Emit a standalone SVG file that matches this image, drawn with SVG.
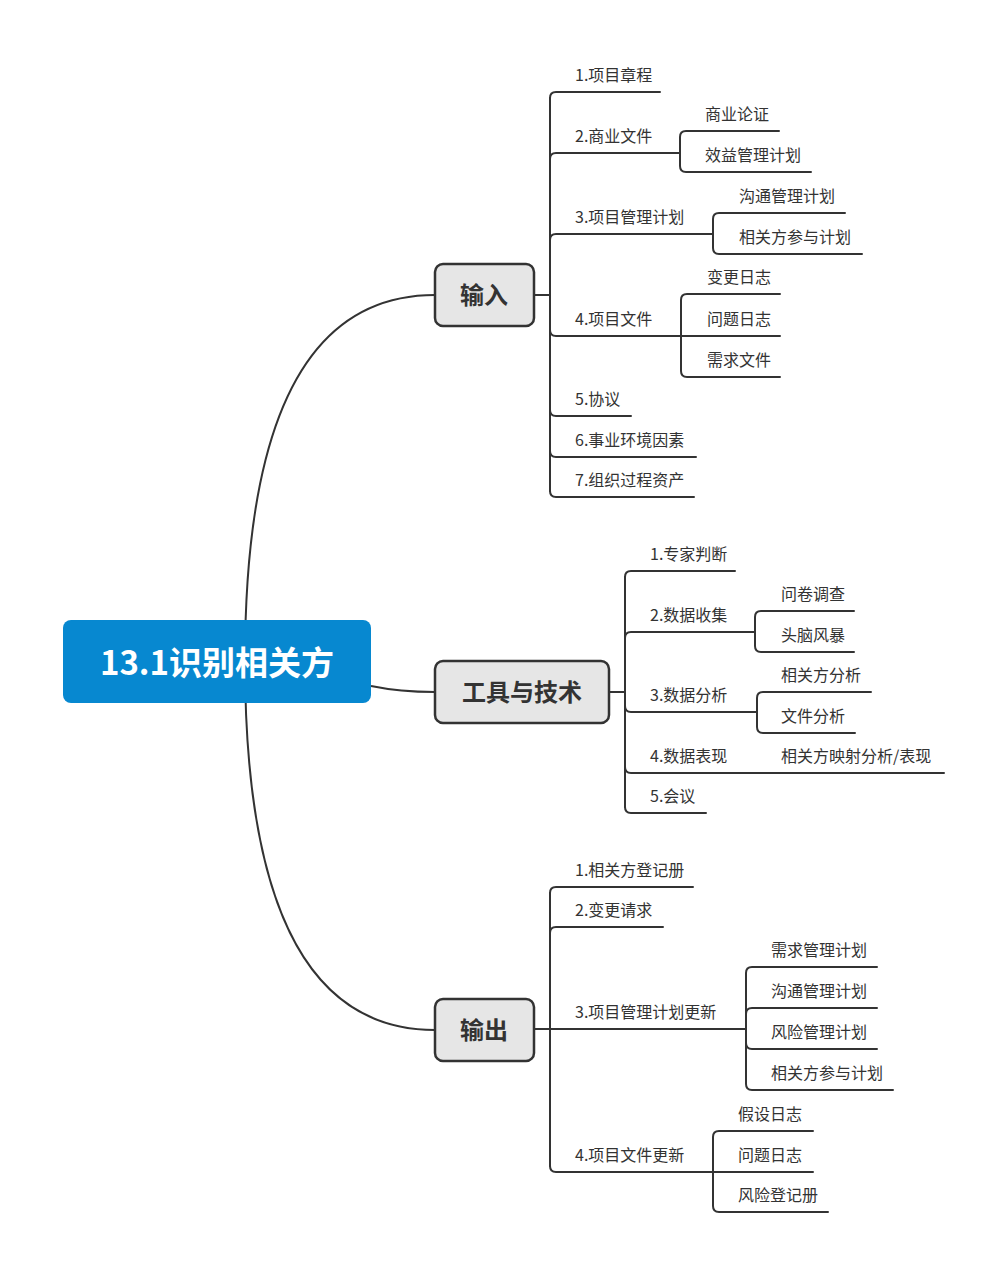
<svg xmlns="http://www.w3.org/2000/svg" width="1007" height="1276" viewBox="0 0 1007 1276">
<style>
.c{fill:none;stroke:#333;stroke-width:2;stroke-linecap:round}
.m{fill:none;stroke:#333;stroke-width:2}
.t{font-family:"Noto Sans CJK SC","Noto Sans",sans-serif;font-size:16px;fill:#333}
.n{fill:#e6e6e6;stroke:#333;stroke-width:2.5}
.nt{font-family:"Noto Sans CJK SC","Noto Sans",sans-serif;font-size:24px;font-weight:bold;fill:#333;text-anchor:middle}
</style>
<rect width="1007" height="1276" fill="#fff"/>
<g id="connectors">
<path class="m" d="M245,661 Q245,295 435,295"/>
<path class="m" d="M371,686 Q400,692 435,692"/>
<path class="m" d="M245,661 Q245,1030 435,1030"/>
<!-- input -->
<path class="c" d="M534,295 L550,295 M550,98 L550,491"/>
<path class="c" d="M550,98 Q550,92 556,92 L660,92"/>
<path class="c" d="M550,159 Q550,153 556,153 L680,153"/>
<path class="c" d="M550,240 Q550,234 556,234 L713,234"/>
<path class="c" d="M550,330 Q550,336 556,336 L681,336"/>
<path class="c" d="M550,410 Q550,416 556,416 L631,416"/>
<path class="c" d="M550,451 Q550,457 556,457 L696,457"/>
<path class="c" d="M550,491 Q550,497 556,497 L694,497"/>
<path class="c" d="M680,137 L680,166 M680,137 Q680,131 686,131 L779,131 M680,166 Q680,172 686,172 L811,172"/>
<path class="c" d="M713,219 L713,248 M713,219 Q713,213 719,213 L845,213 M713,248 Q713,254 719,254 L862,254"/>
<path class="c" d="M681,300 L681,371 M681,300 Q681,294 687,294 L780,294 M681,336 L780,336 M681,371 Q681,377 687,377 L780,377"/>
<!-- tools -->
<path class="c" d="M609,692 L625,692 M625,577 L625,807"/>
<path class="c" d="M625,577 Q625,571 631,571 L735,571"/>
<path class="c" d="M625,638 Q625,632 631,632 L755,632"/>
<path class="c" d="M625,706 Q625,712 631,712 L757,712"/>
<path class="c" d="M625,767 Q625,773 631,773 L944,773"/>
<path class="c" d="M625,807 Q625,813 631,813 L706,813"/>
<path class="c" d="M755,617 L755,646 M755,617 Q755,611 761,611 L854,611 M755,646 Q755,652 761,652 L854,652"/>
<path class="c" d="M757,698 L757,727 M757,698 Q757,692 763,692 L871,692 M757,727 Q757,733 763,733 L855,733"/>
<!-- output -->
<path class="c" d="M550,893 L550,1166"/>
<path class="c" d="M550,893 Q550,887 556,887 L693,887"/>
<path class="c" d="M550,933 Q550,927 556,927 L663,927"/>
<path class="c" d="M534,1029 L746,1029"/>
<path class="c" d="M550,1166 Q550,1172 556,1172 L713,1172"/>
<path class="c" d="M746,973 L746,1084 M746,973 Q746,967 752,967 L877,967 M746,1014 Q746,1008 752,1008 L877,1008 M746,1043 Q746,1049 752,1049 L877,1049 M746,1084 Q746,1090 752,1090 L893,1090"/>
<path class="c" d="M713,1137 L713,1206 M713,1137 Q713,1131 719,1131 L813,1131 M713,1172 L813,1172 M713,1206 Q713,1212 719,1212 L828,1212"/>
</g>
<g id="root">
<rect x="63" y="620" width="308" height="83" rx="8" fill="#0788d0"/>
<text x="217" y="675" font-family="'Noto Sans CJK SC','Noto Sans',sans-serif" font-size="33" font-weight="bold" fill="#fff" text-anchor="middle">13.1识别相关方</text>
</g>
<g id="input"><rect class="n" x="435" y="264" width="99" height="62" rx="8"/><text class="nt" x="484" y="304">输入</text></g>
<g id="tools"><rect class="n" x="435" y="661" width="174" height="62" rx="8"/><text class="nt" x="522" y="701">工具与技术</text></g>
<g id="output"><rect class="n" x="435" y="999" width="99" height="62" rx="8"/><text class="nt" x="484" y="1039">输出</text></g>
<g id="input-children" class="t">
<text class="t" x="575" y="81">1.项目章程</text>
<text class="t" x="575" y="142">2.商业文件</text>
<text class="t" x="705" y="120">商业论证</text>
<text class="t" x="705" y="161">效益管理计划</text>
<text class="t" x="575" y="223">3.项目管理计划</text>
<text class="t" x="739" y="202">沟通管理计划</text>
<text class="t" x="739" y="243">相关方参与计划</text>
<text class="t" x="575" y="325">4.项目文件</text>
<text class="t" x="707" y="283">变更日志</text>
<text class="t" x="707" y="325">问题日志</text>
<text class="t" x="707" y="366">需求文件</text>
<text class="t" x="575" y="405">5.协议</text>
<text class="t" x="575" y="446">6.事业环境因素</text>
<text class="t" x="575" y="486">7.组织过程资产</text>
</g>
<g id="tools-children">
<text class="t" x="650" y="560">1.专家判断</text>
<text class="t" x="650" y="621">2.数据收集</text>
<text class="t" x="781" y="600">问卷调查</text>
<text class="t" x="781" y="641">头脑风暴</text>
<text class="t" x="650" y="701">3.数据分析</text>
<text class="t" x="781" y="681">相关方分析</text>
<text class="t" x="781" y="722">文件分析</text>
<text class="t" x="650" y="762">4.数据表现</text>
<text class="t" x="781" y="762">相关方映射分析/表现</text>
<text class="t" x="650" y="802">5.会议</text>
</g>
<g id="output-children">
<text class="t" x="575" y="876">1.相关方登记册</text>
<text class="t" x="575" y="916">2.变更请求</text>
<text class="t" x="575" y="1018">3.项目管理计划更新</text>
<text class="t" x="771" y="956">需求管理计划</text>
<text class="t" x="771" y="997">沟通管理计划</text>
<text class="t" x="771" y="1038">风险管理计划</text>
<text class="t" x="771" y="1079">相关方参与计划</text>
<text class="t" x="575" y="1161">4.项目文件更新</text>
<text class="t" x="738" y="1120">假设日志</text>
<text class="t" x="738" y="1161">问题日志</text>
<text class="t" x="738" y="1201">风险登记册</text>
</g>
</svg>
